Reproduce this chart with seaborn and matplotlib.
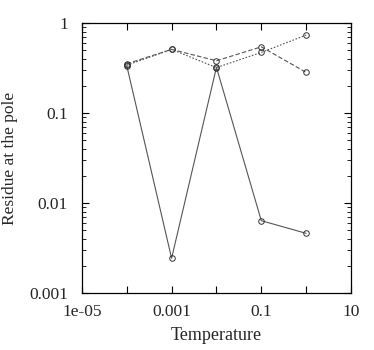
import matplotlib
matplotlib.use("Agg")
import matplotlib.pyplot as plt
import matplotlib.ticker as mticker
import seaborn as sns
import pandas as pd
import numpy as np

# temperatures and residues
temps = [1e-4, 1e-3, 1e-2, 1e-1, 1.0]
res_solid = [0.336, 0.00243, 0.322, 0.00636, 0.0046]
res_dashed = [0.353, 0.51, 0.381, 0.545, 0.283]
res_dotted = [0.34, 0.51, 0.32, 0.472, 0.736]

sns.set_style("ticks")
plt.rcParams['font.family'] = ['Liberation Serif', 'DejaVu Serif']

fig = plt.figure(figsize=(3.74, 3.5), dpi=100)
ax = fig.add_axes([0.219, 0.163, 0.7195, 0.771])

for vals, ls in [(res_solid, '-'), (res_dashed, (0, (4, 2))), (res_dotted, (0, (1.5, 1.5)))]:
    df = pd.DataFrame({'T': temps, 'R': vals})
    sns.lineplot(data=df, x='T', y='R', ax=ax, color='#555555', lw=0.8,
                 linestyle=ls, marker='o', markersize=4, markerfacecolor='none',
                 markeredgecolor='#333333', markeredgewidth=0.7)

ax.set_xscale('log')
ax.set_yscale('log')
ax.set_xlim(1e-5, 10)
ax.set_ylim(0.001, 1)

ax.xaxis.set_major_locator(mticker.FixedLocator([1e-5, 1e-4, 1e-3, 1e-2, 1e-1, 1, 10]))
ax.xaxis.set_major_formatter(mticker.FixedFormatter(['1e-05', '', '0.001', '', '0.1', '', '10']))
ax.xaxis.set_minor_locator(mticker.NullLocator())
ax.yaxis.set_major_locator(mticker.FixedLocator([0.001, 0.01, 0.1, 1]))
ax.yaxis.set_major_formatter(mticker.FixedFormatter(['0.001', '0.01', '0.1', '1']))
ax.yaxis.set_minor_locator(mticker.LogLocator(base=10, subs=np.arange(2, 10)))
ax.yaxis.set_minor_formatter(mticker.NullFormatter())

ax.tick_params(which='both', direction='in', top=True, right=True, labelsize=12.5, color='black')
ax.tick_params(which='major', length=5, width=0.8)
ax.tick_params(which='minor', length=3, width=0.6)
ax.tick_params(axis='x', pad=8)
ax.tick_params(axis='y', pad=10)
for s in ax.spines.values():
    s.set_linewidth(0.9)
    s.set_color('black')

ax.set_xlabel('Temperature', fontsize=13, labelpad=5)
ax.set_ylabel('Residue at the pole', fontsize=12.5, labelpad=8)

fig.savefig('out.png', dpi=100)
